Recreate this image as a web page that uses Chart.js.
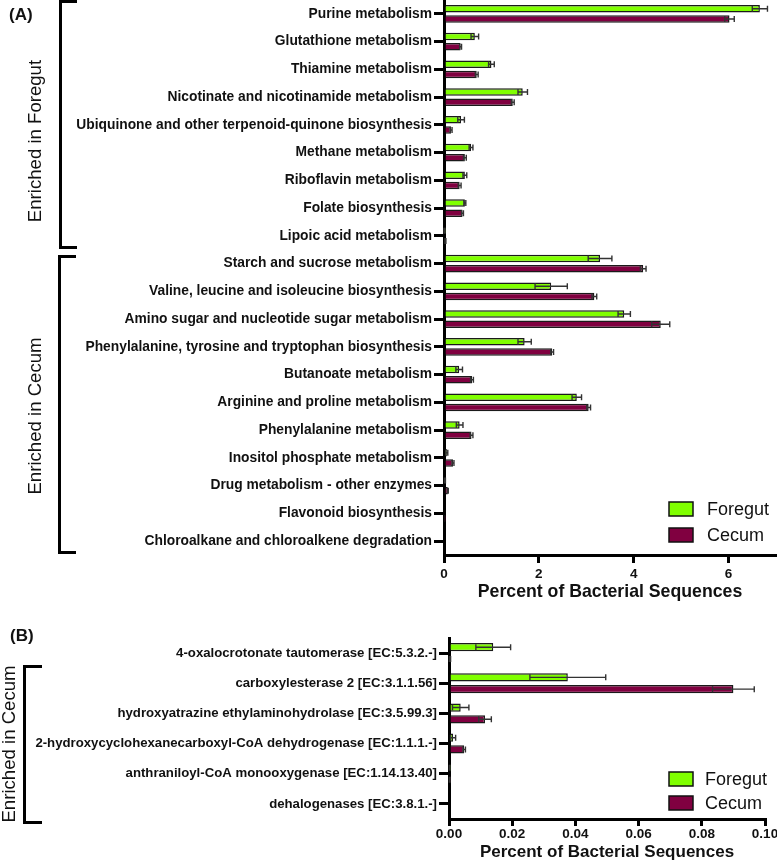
<!DOCTYPE html>
<html>
	<head>
		<meta charset="UTF-8" />
		<title>Enriched pathways and enzymes, Foregut vs Cecum</title>
		<style type="text/css">
			body { margin: 0; background: #fff; }
			.page { position: relative; width: 777px; height: 864px; overflow: hidden; font-family: "Liberation Sans", Arial, sans-serif; color: #111; }
			canvas { position: absolute; left: 0; }
			.panel { position: absolute; font-weight: bold; font-size: 17px; line-height: 1; }
			.side { position: absolute; font-size: 18.6px; line-height: 1; white-space: nowrap; transform: translate(-50%, -50%) rotate(-90deg); }
			.bracket { position: absolute; border: 3px solid #000; border-right: none; box-sizing: border-box; }
		</style>
	</head>
	<body>
		<div class="page">
			<canvas id="chartA" width="777" height="605" style="top:0px"></canvas>
			<canvas id="chartB" width="777" height="244" style="top:620px"></canvas>

			<div class="panel" style="left:9px; top:6px">(A)</div>
			<div class="panel" style="left:10px; top:627px">(B)</div>

			<div class="bracket" style="left:59px; top:0px; width:18px; height:249px"></div>
			<div class="bracket" style="left:58px; top:255px; width:18px; height:299px"></div>
			<div class="bracket" style="left:23px; top:665px; width:19px; height:159px"></div>

			<div class="side" style="left:35px; top:141px">Enriched in Foregut</div>
			<div class="side" style="left:35px; top:416px">Enriched in Cecum</div>
			<div class="side" style="left:9px; top:744px">Enriched in Cecum</div>
		</div>

		<script src="https://cdn.jsdelivr.net/npm/chart.js"></script>
		<script>
			// panel A data
			const pathwaysA = [
				'Purine metabolism',
				'Glutathione metabolism',
				'Thiamine metabolism',
				'Nicotinate and nicotinamide metabolism',
				'Ubiquinone and other terpenoid-quinone biosynthesis',
				'Methane metabolism',
				'Riboflavin metabolism',
				'Folate biosynthesis',
				'Lipoic acid metabolism',
				'Starch and sucrose metabolism',
				'Valine, leucine and isoleucine biosynthesis',
				'Amino sugar and nucleotide sugar metabolism',
				'Phenylalanine, tyrosine and tryptophan biosynthesis',
				'Butanoate metabolism',
				'Arginine and proline metabolism',
				'Phenylalanine metabolism',
				'Inositol phosphate metabolism',
				'Drug metabolism - other enzymes',
				'Flavonoid biosynthesis',
				'Chloroalkane and chloroalkene degradation'
			];
			const foregutA    = [6.66, 0.65, 1.00, 1.66, 0.36, 0.57, 0.44, 0.44, 0.01, 3.29, 2.26, 3.80, 1.70, 0.32, 2.80, 0.33, 0.06, 0.02, 0, 0];
			const foregutErrA = [0.16, 0.08, 0.06, 0.10, 0.07, 0.04, 0.04, 0.02, 0.01, 0.25, 0.34, 0.13, 0.14, 0.07, 0.10, 0.07, 0.02, 0.01, 0, 0];
			const cecumA      = [6.02, 0.35, 0.69, 1.45, 0.15, 0.44, 0.33, 0.39, 0.03, 4.20, 3.17, 4.57, 2.28, 0.59, 3.05, 0.58, 0.19, 0.08, 0.005, 0];
			const cecumErrA   = [0.10, 0.02, 0.03, 0.03, 0.02, 0.03, 0.03, 0.02, 0.01, 0.06, 0.05, 0.19, 0.03, 0.03, 0.04, 0.03, 0.02, 0.01, 0, 0];

			// panel B data
			const enzymesB = [
				'4-oxalocrotonate tautomerase [EC:5.3.2.-]',
				'carboxylesterase 2 [EC:3.1.1.56]',
				'hydroxyatrazine ethylaminohydrolase [EC:3.5.99.3]',
				'2-hydroxycyclohexanecarboxyl-CoA dehydrogenase [EC:1.1.1.-]',
				'anthraniloyl-CoA monooxygenase [EC:1.14.13.40]',
				'dehalogenases [EC:3.8.1.-]'
			];
			const foregutB    = [0.0140, 0.0376, 0.0037, 0.0013, 0.0002, 0];
			const foregutErrB = [0.0055, 0.0120, 0.0026, 0.0008, 0.0001, 0];
			const cecumB      = [0.0003, 0.0900, 0.0114, 0.0048, 0.0002, 0];
			const cecumErrB   = [0.0002, 0.0066, 0.0020, 0.0004, 0.0001, 0];

			const groupNames = ['Foregut', 'Cecum'];
			const GREEN = '#80ff00';
			const MAROON = '#800040';

			Chart.defaults.font.family = '"Liberation Sans", Arial, sans-serif';
			Chart.defaults.color = '#111';

			//error bars drawn from dataset.errors
			const errorBars = {
				id: 'errorBars',
				afterDatasetsDraw(chart) {
					const ctx = chart.ctx;
					const xs = chart.scales.x;
					ctx.save();
					ctx.strokeStyle = '#333';
					ctx.lineWidth = 1.4;
					chart.data.datasets.forEach((ds, i) => {
						const meta = chart.getDatasetMeta(i);
						meta.data.forEach((bar, j) => {
							const e = ds.errors[j];
							if (!e) return;
							const v = ds.data[j];
							const lo = xs.getPixelForValue(Math.max(0, v - e));
							const hi = xs.getPixelForValue(v + e);
							const y = bar.y;
							ctx.beginPath();
							ctx.moveTo(lo, y); ctx.lineTo(hi, y);
							ctx.moveTo(lo, y - 3); ctx.lineTo(lo, y + 3);
							ctx.moveTo(hi, y - 3); ctx.lineTo(hi, y + 3);
							ctx.stroke();
						});
					});
					ctx.restore();
				}
			};

			//legend inside the plot, bottom right
			const boxLegend = {
				id: 'boxLegend',
				afterDraw(chart, args, opts) {
					const ctx = chart.ctx;
					const area = chart.chartArea;
					ctx.save();
					ctx.font = '18px "Liberation Sans", Arial, sans-serif';
					ctx.textBaseline = 'middle';
					chart.data.datasets.forEach((ds, i) => {
						const x = area.right - opts.fromRight;
						const y = area.bottom - opts.rows[i];
						ctx.fillStyle = ds.backgroundColor;
						ctx.fillRect(x, y - 7, 24, 14);
						ctx.strokeStyle = '#111';
						ctx.lineWidth = 1.5;
						ctx.strokeRect(x, y - 7, 24, 14);
						ctx.fillStyle = '#111';
						ctx.fillText(ds.label, x + opts.textGap, y + 1);
					});
					ctx.restore();
				}
			};

			function makeChart(id, labels, fg, fgErr, ce, ceErr, cfg) {
				const barStyle = {
					borderColor: '#1a1a1a',
					borderWidth: 1.5,
					borderSkipped: 'start',
					categoryPercentage: cfg.catPct,
					barPercentage: cfg.barPct
				};
				return new Chart(document.getElementById(id), {
					type: 'bar',
					data: {
						labels: labels,
						datasets: [
							Object.assign({ label: groupNames[0], data: fg, errors: fgErr, backgroundColor: GREEN }, barStyle),
							Object.assign({ label: groupNames[1], data: ce, errors: ceErr, backgroundColor: MAROON }, barStyle)
						]
					},
					options: {
						indexAxis: 'y',
						responsive: false,
						animation: false,
						layout: { padding: cfg.padding },
						plugins: {
							legend: { display: false },
							tooltip: { enabled: false },
							boxLegend: cfg.legend
						},
						scales: {
							x: {
								type: 'linear',
								min: 0,
								max: cfg.xMax,
								ticks: {
									stepSize: cfg.xStep,
									padding: cfg.xTickPad,
									font: { size: 13.5, weight: 'bold' },
									callback: v => cfg.xFmt(v)
								},
								grid: { drawOnChartArea: false, tickLength: cfg.xTickLen, lineWidth: 3, color: '#000' },
								border: { display: true, color: '#000', width: 3 },
								title: {
									display: true,
									text: 'Percent of Bacterial Sequences',
									font: { size: cfg.titleSize, weight: 'bold' },
									padding: { top: 0, bottom: cfg.titlePad }
								},
								afterBuildTicks: s => {
									s.ticks = s.ticks.filter(t => Math.abs(t.value / cfg.xStep - Math.round(t.value / cfg.xStep)) < 1e-6);
								},
								afterFit: s => {
									s.height = cfg.xHeight;
									s.paddingLeft = 0;
									s.paddingRight = 0;
								}
							},
							y: {
								type: 'category',
								offset: true,
								ticks: { autoSkip: false, padding: 2, font: { size: cfg.labelSize, weight: 'bold' } },
								grid: { offset: false, drawOnChartArea: false, tickLength: 10, lineWidth: 3, color: '#000' },
								border: { display: true, color: '#000', width: 3 },
								afterFit: s => {
									s.width = cfg.yWidth;
									s.paddingTop = 0;
									s.paddingBottom = 0;
								}
							}
						}
					},
					plugins: [errorBars, boxLegend]
				});
			}

			makeChart('chartA', pathwaysA, foregutA, foregutErrA, cecumA, cecumErrA, {
				catPct: 0.74, barPct: 0.74,
				padding: { top: 0, right: 1, bottom: 0, left: 0 },
				xMax: 7, xStep: 2, xFmt: v => String(v),
				xTickPad: 3, xTickLen: 8, xHeight: 50,
				titleSize: 17.7, titlePad: 2.4,
				labelSize: 13.8, yWidth: 444,
				legend: { fromRight: 107, rows: [46, 20], textGap: 38 }
			});

			makeChart('chartB', enzymesB, foregutB, foregutErrB, cecumB, cecumErrB, {
				catPct: 0.78, barPct: 0.7,
				padding: { top: 18, right: 12, bottom: 0, left: 0 },
				xMax: 0.1, xStep: 0.02, xFmt: v => v.toFixed(2),
				xTickPad: 0, xTickLen: 7, xHeight: 45,
				titleSize: 17, titlePad: 1,
				labelSize: 13.2, yWidth: 449,
				legend: { fromRight: 96, rows: [40, 16], textGap: 36 }
			});
		</script>
	</body>
</html>
